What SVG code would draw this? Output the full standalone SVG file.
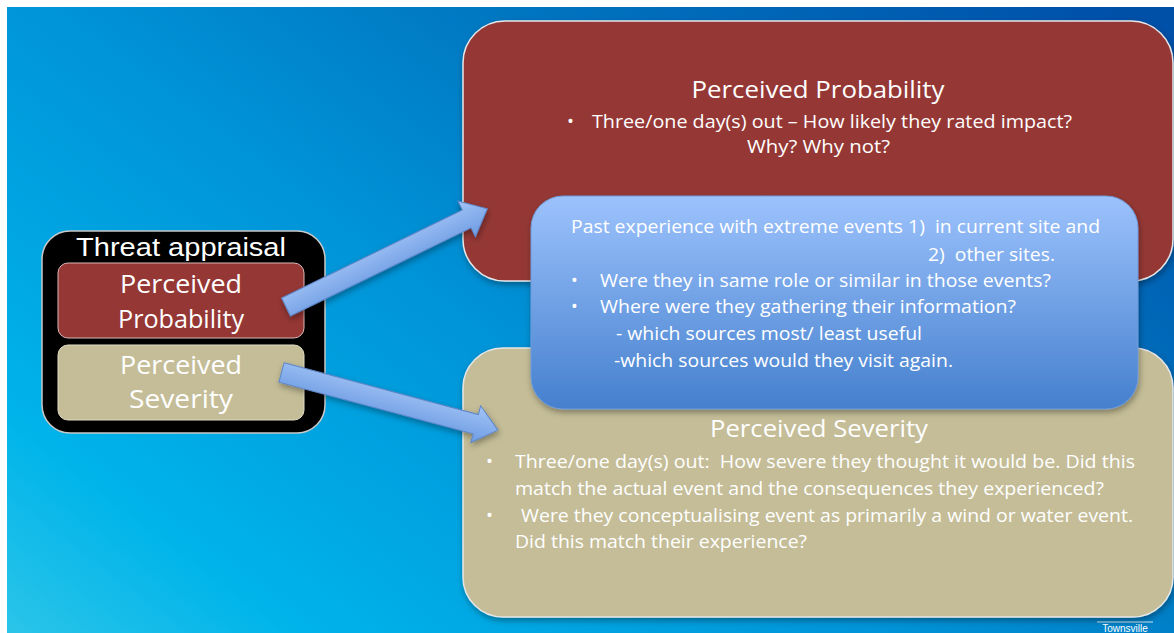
<svg xmlns="http://www.w3.org/2000/svg" width="1174" height="633" viewBox="0 0 1174 633" xml:space="preserve">
  <defs>
    <linearGradient id="bg" gradientUnits="userSpaceOnUse" x1="0" y1="633" x2="700" y2="-300">
      <stop offset="0" stop-color="#2CC5E8"/>
      <stop offset="0.15" stop-color="#00B4EA"/>
      <stop offset="0.45" stop-color="#0094D8"/>
      <stop offset="0.62" stop-color="#007EC6"/>
      <stop offset="1" stop-color="#0050A8"/>
    </linearGradient>
    <linearGradient id="blueBox" x1="0" y1="0" x2="0" y2="1">
      <stop offset="0" stop-color="#9CC2FC"/>
      <stop offset="1" stop-color="#4580CE"/>
    </linearGradient>
    <linearGradient id="arrowFill" x1="0" y1="0" x2="0" y2="1">
      <stop offset="0" stop-color="#A3C4F6"/>
      <stop offset="1" stop-color="#6C9BE2"/>
    </linearGradient>
    <filter id="shadow" x="-10%" y="-10%" width="120%" height="130%">
      <feDropShadow dx="1" dy="3" stdDeviation="3" flood-color="#000" flood-opacity="0.35"/>
    </filter>
  </defs>
  <style>
    text { white-space: pre; }
    .t { font-family: "Open Sans", "Noto Sans", sans-serif; fill: #ffffff; }
    .a { font-family: "Liberation Sans", Arial, sans-serif; fill: #ffffff; }
    .big { stroke: #E6E6E6; stroke-width: 1.5; }
    .arrow { fill: url(#arrowFill); stroke: #5E86C8; stroke-width: 1; }
  </style>

  <rect x="0" y="0" width="1174" height="633" fill="#ffffff"/>
  <rect x="7" y="7" width="1167" height="626" fill="url(#bg)"/>

  <g id="townsville">
    <line x1="1097" y1="622" x2="1153" y2="622" stroke="#d8e8f4" stroke-width="1"/>
    <text class="a" x="1125" y="632" font-size="10" text-anchor="middle">Townsville</text>
  </g>

  <g id="threat-appraisal">
    <rect x="42" y="231" width="283" height="202" rx="28" fill="#000000" stroke="#C8C8C8" stroke-width="1.5"/>
    <text class="a" x="181" y="256" font-size="26" text-anchor="middle" textLength="210" lengthAdjust="spacingAndGlyphs">Threat appraisal</text>
    <g id="small-probability">
      <rect x="58" y="263" width="246" height="75" rx="10" fill="#953735" stroke="#D8B8B6" stroke-width="1"/>
      <text class="t" x="181" y="293" font-size="25" text-anchor="middle" textLength="122" lengthAdjust="spacingAndGlyphs">Perceived</text>
      <text class="t" x="181" y="328" font-size="25" text-anchor="middle" textLength="126" lengthAdjust="spacingAndGlyphs">Probability</text>
    </g>
    <g id="small-severity">
      <rect x="58" y="345" width="246" height="75" rx="10" fill="#C4BD97" stroke="#E2DDC6" stroke-width="1"/>
      <text class="t" x="181" y="374" font-size="25" text-anchor="middle" textLength="122" lengthAdjust="spacingAndGlyphs">Perceived</text>
      <text class="t" x="181" y="408" font-size="25" text-anchor="middle" textLength="104" lengthAdjust="spacingAndGlyphs">Severity</text>
    </g>
  </g>

  <g id="perceived-probability">
    <rect class="big" x="463" y="21" width="710" height="260" rx="42" fill="#953735" filter="url(#shadow)"/>
    <text class="t" x="818" y="98" font-size="24.5" text-anchor="middle" textLength="253" lengthAdjust="spacingAndGlyphs">Perceived Probability</text>
    <text class="t" x="567" y="128" font-size="18.5">•</text>
    <text class="t" x="592" y="128" font-size="18.5" textLength="480" lengthAdjust="spacingAndGlyphs">Three/one day(s) out – How likely they rated impact?</text>
    <text class="t" x="747" y="153" font-size="18.5" textLength="143" lengthAdjust="spacingAndGlyphs">Why? Why not?</text>
  </g>

  <g id="perceived-severity">
    <rect class="big" x="463" y="348" width="710" height="269" rx="40" fill="#C4BD97" filter="url(#shadow)"/>
    <text class="t" x="819" y="437" font-size="24.5" text-anchor="middle" textLength="218" lengthAdjust="spacingAndGlyphs">Perceived Severity</text>
    <text class="t" x="486" y="468" font-size="18.5">•</text>
    <text class="t" x="515" y="468" font-size="18.5" textLength="620" lengthAdjust="spacingAndGlyphs">Three/one day(s) out:  How severe they thought it would be. Did this</text>
    <text class="t" x="515" y="495" font-size="18.5" textLength="589" lengthAdjust="spacingAndGlyphs">match the actual event and the consequences they experienced?</text>
    <text class="t" x="486" y="522" font-size="18.5">•</text>
    <text class="t" x="521" y="522" font-size="18.5" textLength="612" lengthAdjust="spacingAndGlyphs">Were they conceptualising event as primarily a wind or water event.</text>
    <text class="t" x="515" y="548" font-size="18.5" textLength="292" lengthAdjust="spacingAndGlyphs">Did this match their experience?</text>
  </g>

  <g id="past-experience">
    <rect x="531" y="196" width="607" height="213" rx="32" fill="url(#blueBox)" stroke="#6E9AD8" stroke-width="1" filter="url(#shadow)"/>
    <text class="t" x="571" y="233" font-size="18" textLength="529" lengthAdjust="spacingAndGlyphs">Past experience with extreme events 1)  in current site and</text>
    <text class="t" x="928" y="261" font-size="18" textLength="127" lengthAdjust="spacingAndGlyphs">2)  other sites.</text>
    <text class="t" x="571" y="287" font-size="18">•</text>
    <text class="t" x="600" y="287" font-size="18" textLength="451" lengthAdjust="spacingAndGlyphs">Were they in same role or similar in those events?</text>
    <text class="t" x="571" y="313" font-size="18">•</text>
    <text class="t" x="600" y="313" font-size="18" textLength="416" lengthAdjust="spacingAndGlyphs">Where were they gathering their information?</text>
    <text class="t" x="616" y="340" font-size="18" textLength="306" lengthAdjust="spacingAndGlyphs">- which sources most/ least useful</text>
    <text class="t" x="614" y="367" font-size="18" textLength="339" lengthAdjust="spacingAndGlyphs">-which sources would they visit again.</text>
  </g>

  <g id="connectors" filter="url(#shadow)">
    <polygon class="arrow" transform="translate(286,307) rotate(-26)" points="0,-10 201,-10 201,-20 224,0 201,20 201,10 0,10"/>
    <polygon class="arrow" transform="translate(281.5,372.5) rotate(14.9)" points="0,-10 201,-10 201,-19 224,0 201,19 201,10 0,10"/>
  </g>
</svg>
